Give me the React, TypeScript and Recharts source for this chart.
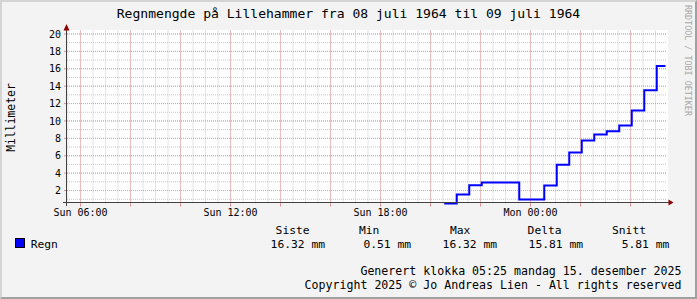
import React from 'react';
import { ComposedChart, Line, XAxis, YAxis, ReferenceLine } from 'recharts';

// time in minutes since Sun 08 juli 00:00
const stepTimes = [1233, 1263, 1293, 1323, 1353, 1383, 1413, 1443, 1473, 1503, 1533, 1563, 1593, 1623, 1653, 1683, 1713, 1743, 1764];
const rainMm = [0.51, 1.55, 2.6, 2.92, 2.92, 2.92, 0.97, 0.97, 2.58, 4.96, 6.37, 7.76, 8.43, 8.82, 9.48, 11.2, 13.52, 16.32, 16.32];

const xTickTimes = [360, 720, 1080, 1440];
const xTickLabels = ['Sun 06:00', 'Sun 12:00', 'Sun 18:00', 'Mon 00:00'];
const yTicks = [2, 4, 6, 8, 10, 12, 14, 16, 18, 20];

const statHeaders = ['Siste', 'Min', 'Max', 'Delta', 'Snitt'];
const statValues = ['16.32 mm', '0.51 mm', '16.32 mm', '15.81 mm', '5.81 mm'];

const titleText = 'Regnmengde på Lillehammer fra 08 juli 1964 til 09 juli 1964';
const yAxisTitle = 'Millimeter';
const seriesName = 'Regn';
const footerLines = ['Generert klokka 05:25 mandag 15. desember 2025', 'Copyright 2025 © Jo Andreas Lien - All rights reserved'];
const watermark = 'RRDTOOL / TOBI OETIKER';

const X_DOMAIN: [number, number] = [327.6, 1767.6];
const Y_DOMAIN: [number, number] = [0.51, 20.401];

const MONO = "'DejaVu Sans Mono', 'Liberation Mono', monospace";

const minorX: number[] = [];
for (let t = 330; t <= 1760; t += 30) minorX.push(t);
const majorX: number[] = [];
for (let t = 360; t <= 1760; t += 120) majorX.push(t);
const minorY: number[] = [];
for (let v = 1; v <= 20; v += 1) minorY.push(v);

const headerX = [275.6, 359, 450, 527.6, 612];
const valueRightX = [325, 411, 497, 583, 669.3];

export default function App() {
  const data = stepTimes.map((t, i) => ({ t, v: rainMm[i] }));

  const XTick = (props: any) => {
    const idx = xTickTimes.indexOf(props.payload.value);
    if (idx < 0) return <g />;
    return (
      <text x={props.x} y={props.y + 7.5} textAnchor="middle" fontSize={10} fontFamily={MONO} fill="#000">
        {xTickLabels[idx]}
      </text>
    );
  };
  const YTick = (props: any) => (
    <text x={props.x - 1} y={props.y + 3.6} textAnchor="end" fontSize={10} fontFamily={MONO} fill="#000">
      {props.payload.value}
    </text>
  );

  return (
    <div style={{ position: 'absolute', left: 0, top: 0, width: 697, height: 299, background: '#f3f3f3', overflow: 'hidden' }}>
      <div style={{ position: 'absolute', left: 0, top: 0, width: 697, height: 299, boxSizing: 'border-box', borderTop: '2px solid #d4d4d4', borderLeft: '2px solid #d4d4d4', borderRight: '2px solid #a0a0a0', borderBottom: '2px solid #a0a0a0' }} />
      <div style={{ position: 'absolute', left: 67, top: 30, width: 601, height: 173, background: '#ffffff' }} />
      <div style={{ position: 'absolute', left: 0, top: 0 }}>
        <ComposedChart width={697} height={299} data={data} margin={{ top: 30.5, right: 30, bottom: 0, left: 0 }}>
          <XAxis
            type="number"
            dataKey="t"
            domain={X_DOMAIN}
            ticks={majorX}
            interval={0}
            height={95.5}
            axisLine={false}
            tickLine={{ stroke: '#e89090' }}
            tickSize={3}
            tickMargin={2}
            tick={XTick}
          />
          <YAxis
            type="number"
            domain={Y_DOMAIN}
            ticks={yTicks}
            interval={0}
            width={67}
            axisLine={false}
            tickLine={{ stroke: '#e89090' }}
            tickSize={3}
            tickMargin={2}
            tick={YTick}
          />
          {minorX.map((t) => (
            <ReferenceLine key={'mx' + t} x={t} stroke="#c8c8c8" strokeDasharray="1 1" />
          ))}
          {minorY.map((v) => (
            <ReferenceLine key={'my' + v} y={v} stroke="#c8c8c8" strokeDasharray="1 1" />
          ))}
          {majorX.map((t) => (
            <ReferenceLine key={'Mx' + t} x={t} stroke="#eb9a9a" strokeDasharray="1 1" />
          ))}
          {yTicks.map((v) => (
            <ReferenceLine key={'My' + v} y={v} stroke="#eb9a9a" strokeDasharray="1 1" />
          ))}
          <Line
            type="stepAfter"
            dataKey="v"
            stroke="#0000ff"
            strokeWidth={2}
            dot={false}
            activeDot={false}
            isAnimationActive={false}
          />
        </ComposedChart>
      </div>
      <svg width={697} height={299} style={{ position: 'absolute', left: 0, top: 0, pointerEvents: 'none' }}>
        {/* axes */}
        <line x1={66.5} y1={206} x2={66.5} y2={29} stroke="#404040" strokeWidth={1} />
        <polygon points="63.5,30.5 69.5,30.5 66.5,24" fill="#8b0000" />
        <line x1={63} y1={202.5} x2={669} y2={202.5} stroke="#404040" strokeWidth={1} />
        <polygon points="668.5,199.5 668.5,205.5 673.5,202.5" fill="#8b0000" />

        <text x={348.5} y={18} textAnchor="middle" fontSize={13.06} fontFamily={MONO} fill="#000">{titleText}</text>
        <text transform="translate(15,117.5) rotate(-90)" textAnchor="middle" fontSize={11.4} fontFamily={MONO} fill="#000">{yAxisTitle}</text>
        <text transform="translate(684.5,5) rotate(90)" fontSize={8.4} fontFamily={MONO} fill="#a8a8a8">{watermark}</text>

        <rect x={15.5} y={238.5} width={9} height={9} fill="#0000ff" stroke="#000" strokeWidth={1} />
        <text x={30.7} y={247.5} fontSize={11.3} fontFamily={MONO} fill="#000">{seriesName}</text>
        {statHeaders.map((h, i) => (
          <text key={h} x={headerX[i]} y={233.5} fontSize={11.3} fontFamily={MONO} fill="#000">{h}</text>
        ))}
        {statValues.map((v, i) => (
          <text key={'v' + i} x={valueRightX[i]} y={247.5} textAnchor="end" fontSize={11.3} fontFamily={MONO} fill="#000" style={{ whiteSpace: 'pre' }}>{v}</text>
        ))}
        <text x={681.5} y={275} textAnchor="end" fontSize={11.6} fontFamily={MONO} fill="#000">{footerLines[0]}</text>
        <text x={681.5} y={289} textAnchor="end" fontSize={11.6} fontFamily={MONO} fill="#000">{footerLines[1]}</text>
      </svg>
    </div>
  );
}
